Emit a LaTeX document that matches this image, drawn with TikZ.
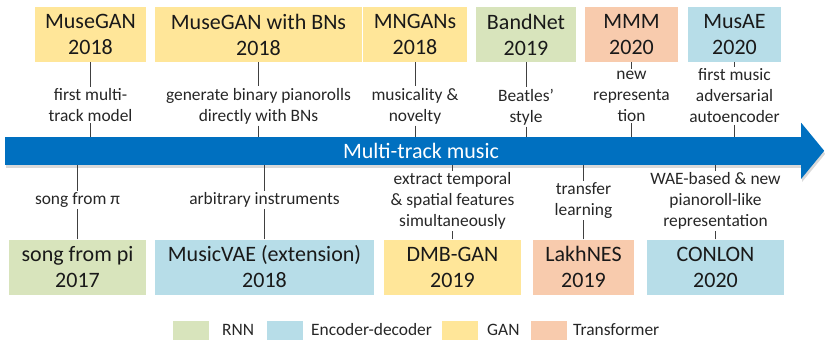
\documentclass[tikz,border=0pt]{standalone}
\usepackage{fontspec}
\setmainfont{Carlito}
\usetikzlibrary{shadows}

\definecolor{rnncol}{RGB}{216,228,188}
\definecolor{enccol}{RGB}{183,221,232}
\definecolor{gancol}{RGB}{255,230,153}
\definecolor{trfcol}{RGB}{248,203,173}
\definecolor{barblue}{RGB}{0,112,192}

\begin{document}
\begin{tikzpicture}[x=1pt, y=-1pt,
    model/.style={fill=#1, minimum height=55pt, inner sep=0pt, align=center,
                  text=black!90, font=\fontsize{22}{26}\selectfont},
    note/.style={align=center, inner sep=1.5pt, text=black!85,
                 font=\fontsize{17.4}{21}\selectfont},
    link/.style={draw=black!75, line width=0.9pt},
    shade/.style={drop shadow={opacity=0.3, shadow xshift=1pt, shadow yshift=-3pt}}]
  \useasboundingbox (0,0) rectangle (825,341);

  % timeline arrow
  \node[fill=barblue, shade, minimum width=796, minimum height=28, inner sep=0pt] (bar) at (403,151) {};
  \fill[barblue, shade] (bar.north east) -- ++(0,-14) -- ++(23,28) -- ++(-23,28) -- ++(0,-14) -- cycle;
  \node[text=white, font=\fontsize{22}{26}\selectfont] (bar-t) at (421,151) {Multi-track music};

  % models above the arrow
  \foreach \nm/\x/\w/\c/\ttl/\ly/\lbl in {
      mg/90.5/111/gancol/{MuseGAN\\2018}/105/{first multi-\\track model},
      bn/258.5/207/gancol/{MuseGAN with BNs\\2018}/106/{generate binary pianorolls\\directly with BNs},
      mn/415/104/gancol/{MNGANs\\2018}/106/{musicality \&\\novelty},
      bd/526/100/rnncol/{BandNet\\2019}/107/{Beatles’\\style},
      mmm/631.5/93/trfcol/{MMM\\2020}/96/{new\\representa\\tion},
      mae/734.5/93/enccol/{MusAE\\2020}/96/{first music\\adversarial\\autoencoder}}
  {
    \node[model=\c, minimum width=\w] (\nm) at (\x,34.5) {\ttl};
    \node[note] (\nm-l) at (\x,\ly) {\lbl};
    \draw[link] (\nm) -- (\nm-l);
    \draw[link] (\nm-l) -- (\nm-l |- bar.north);
  }

  % models below the arrow
  \foreach \nm/\x/\w/\c/\ttl/\ly/\lbl in {
      sp/77.5/137/rnncol/{song from pi\\2017}/200/{song from π},
      mv/264.5/219/enccol/{MusicVAE (extension)\\2018}/200/{arbitrary instruments},
      dmb/452.5/137/gancol/{DMB-GAN\\2019}/201/{extract temporal\\\& spatial features\\simultaneously},
      lk/583.5/101/trfcol/{LakhNES\\2019}/200.5/{transfer\\learning},
      cl/715.5/137/enccol/{CONLON\\2020}/201/{WAE-based \& new\\pianoroll-like\\representation}}
  {
    \node[model=\c, minimum width=\w] (\nm) at (\x,267) {\ttl};
    \node[note] (\nm-l) at (\x,\ly) {\lbl};
    \draw[link] (\nm) -- (\nm-l);
    \draw[link] (\nm-l) -- (\nm-l |- bar.south);
  }

  % legend
  \foreach \nm/\x/\tx/\c/\t in {rnn/191/222/rnncol/RNN, enc/285/311/enccol/Encoder-decoder,
                               gan/460/487/gancol/GAN, trf/548.5/573/trfcol/Transformer}
  {
    \node[fill=\c, minimum width=36, minimum height=19, inner sep=0pt] (\nm) at (\x,330.5) {};
    \node[note, anchor=west, inner sep=0pt] (\nm-t) at (\tx,330) {\t};
  }
\end{tikzpicture}
\end{document}
